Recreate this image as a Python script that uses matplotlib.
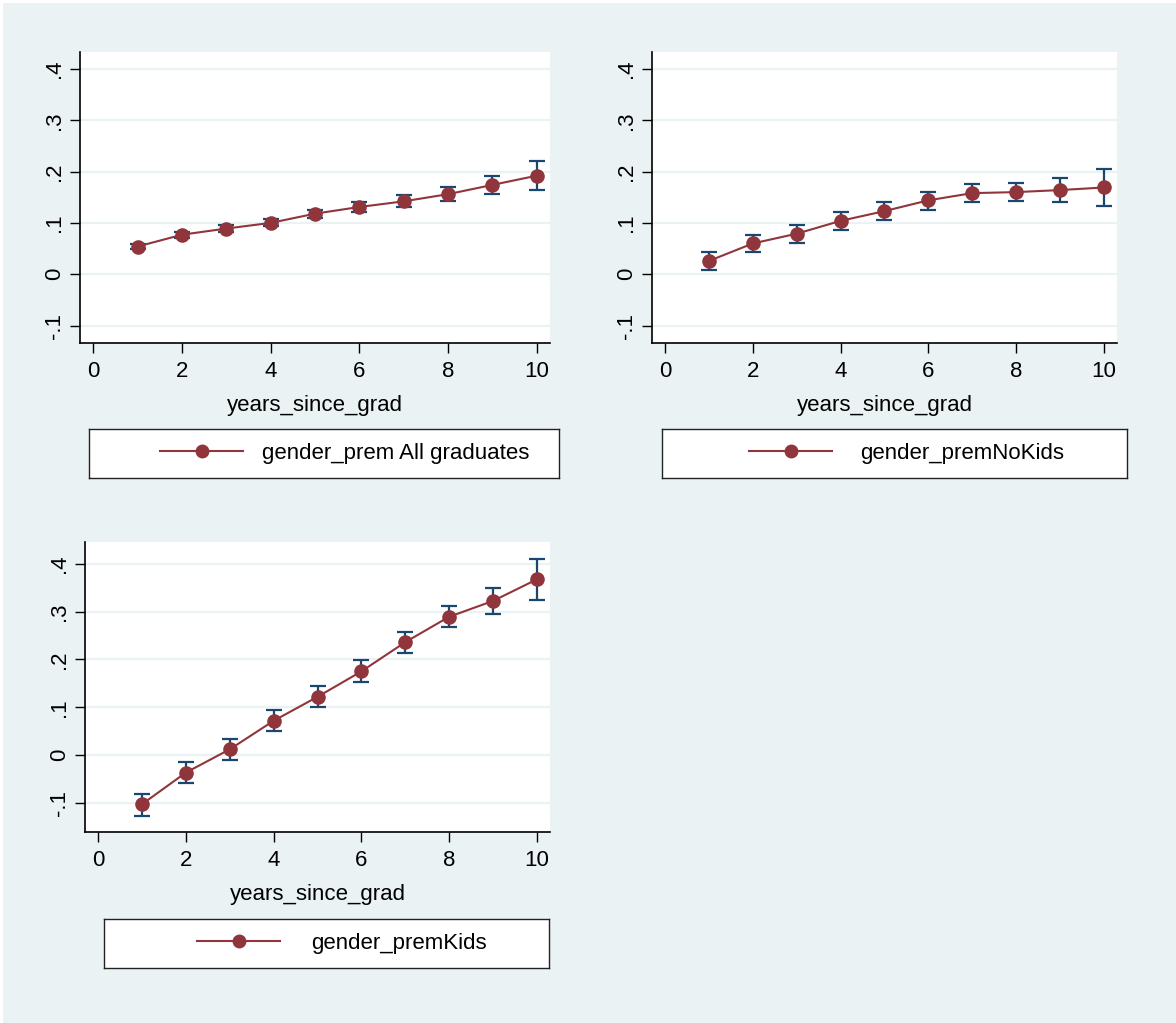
import matplotlib
matplotlib.use("Agg")
import matplotlib.pyplot as plt
from matplotlib.lines import Line2D
from matplotlib.patches import Rectangle

plt.rcParams['font.family'] = ['Liberation Sans', 'DejaVu Sans']

years = [1, 2, 3, 4, 5, 6, 7, 8, 9, 10]

all_est = [0.054, 0.077, 0.089, 0.100, 0.118, 0.131, 0.142, 0.156, 0.174, 0.192]
all_lo = [0.049, 0.071, 0.083, 0.093, 0.110, 0.121, 0.131, 0.142, 0.156, 0.164]
all_hi = [0.059, 0.083, 0.095, 0.107, 0.126, 0.140, 0.154, 0.169, 0.191, 0.220]

nokids_est = [0.026, 0.060, 0.079, 0.104, 0.123, 0.144, 0.158, 0.160, 0.164, 0.169]
nokids_lo = [0.008, 0.043, 0.061, 0.087, 0.105, 0.126, 0.141, 0.142, 0.141, 0.132]
nokids_hi = [0.043, 0.077, 0.095, 0.121, 0.140, 0.161, 0.175, 0.177, 0.187, 0.206]

kids_est = [-0.102, -0.036, 0.0125, 0.072, 0.122, 0.175, 0.236, 0.289, 0.322, 0.367]
kids_lo = [-0.126, -0.058, -0.010, 0.051, 0.100, 0.153, 0.214, 0.268, 0.294, 0.324]
kids_hi = [-0.081, -0.013, 0.034, 0.094, 0.144, 0.198, 0.258, 0.311, 0.349, 0.409]

labels = ["gender_prem All graduates", "gender_premNoKids", "gender_premKids"]

x_ticks = [0, 2, 4, 6, 8, 10]
y_ticks = [-0.1, 0.0, 0.1, 0.2, 0.3, 0.4]
y_tick_labels = ['-.1', '0', '.1', '.2', '.3', '.4']
x_label = "years_since_grad"

BG = '#EAF2F3'
MAROON = '#90353B'
NAVY = '#1A476F'
W, H = 1176, 1023
FS = 16

fig = plt.figure(figsize=(W / 100, H / 100), dpi=100, facecolor='white')
fig.patches.append(Rectangle((3 / W, 0), 1, 1 - 3 / H, transform=fig.transFigure,
                             facecolor=BG, edgecolor='none', zorder=-10))


def px_rect(x0, y0, x1, y1):
    return [x0 / W, 1 - y1 / H, (x1 - x0) / W, (y1 - y0) / H]


panels = [
    dict(est=all_est, lo=all_lo, hi=all_hi, label=labels[0],
         ax=px_rect(80, 52, 550, 343), ylim=(-0.134, 0.433),
         leg=px_rect(89, 429, 559, 478), start=0.151, pad=0.85),
    dict(est=nokids_est, lo=nokids_lo, hi=nokids_hi, label=labels[1],
         ax=px_rect(652, 52, 1117, 343), ylim=(-0.134, 0.433),
         leg=px_rect(662, 429, 1127, 478), start=0.187, pad=1.25),
    dict(est=kids_est, lo=kids_lo, hi=kids_hi, label=labels[2],
         ax=px_rect(85, 542, 550, 832), ylim=(-0.160, 0.445),
         leg=px_rect(104, 919, 549, 968), start=0.209, pad=1.4),
]

for p in panels:
    ax = fig.add_axes(p['ax'])
    ax.set_facecolor('white')
    for y in y_ticks:
        ax.axhline(y, color=BG, lw=1.6, zorder=0)
    yerr = [[e - l for e, l in zip(p['est'], p['lo'])],
            [h - e for e, h in zip(p['est'], p['hi'])]]
    ax.errorbar(years, p['est'], yerr=yerr, fmt='none', ecolor=NAVY,
                elinewidth=1.6, capsize=5.5, capthick=1.6, zorder=2)
    ax.plot(years, p['est'], color=MAROON, lw=1.5, marker='o', markersize=10.5,
            markeredgewidth=0, zorder=3)
    ax.set_xlim(-0.3, 10.3)
    ax.set_ylim(*p['ylim'])
    ax.set_xticks(x_ticks)
    ax.set_yticks(y_ticks)
    ax.set_yticklabels(y_tick_labels, rotation=90, va='center')
    ax.tick_params(axis='both', labelsize=FS, length=7, width=1, color='black',
                   direction='out')
    ax.tick_params(axis='y', pad=4)
    ax.tick_params(axis='x', pad=6)
    for s in ['top', 'right']:
        ax.spines[s].set_visible(False)
    for s in ['left', 'bottom']:
        ax.spines[s].set_linewidth(1.2)
    ax.set_xlabel(x_label, fontsize=FS, labelpad=9)

    lax = fig.add_axes(p['leg'])
    lax.set_facecolor('white')
    lax.set_xticks([])
    lax.set_yticks([])
    for s in lax.spines.values():
        s.set_linewidth(1.0)
        s.set_color('#222222')
    h = Line2D([], [], color=MAROON, lw=1.5, marker='o', markersize=10,
               markeredgewidth=0)
    lax.legend([h], [p['label']], loc='center left', bbox_to_anchor=(p['start'], 0.5),
               frameon=False, fontsize=FS, borderpad=0, borderaxespad=0,
               handlelength=3.74, handletextpad=p['pad'])

fig.savefig('out.png', dpi=100, facecolor=fig.get_facecolor())
